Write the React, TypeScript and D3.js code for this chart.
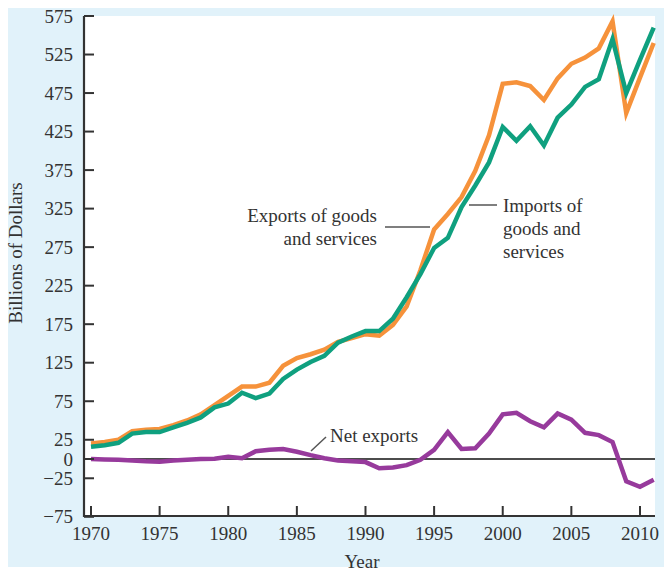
import React from "react";
import * as d3 from "d3";

// Trade balance, billions of dollars, 1970–2011
const years: number[] = d3.range(1970, 2012);

const exportsGS: number[] = [
  20, 22, 25, 36, 38, 39, 44, 50, 58, 70,
  82, 94, 94, 99, 121, 131, 136, 142, 152, 157,
  162, 160, 174, 198, 245, 298, 318, 340, 374, 420,
  487, 489, 484, 466, 494, 513, 521, 533, 568, 449,
  495, 540,
];

const importsGS: number[] = [
  16, 18, 21, 33, 35, 35, 41, 47, 54, 67,
  72, 86, 79, 85, 104, 116, 126, 134, 151, 159,
  166, 166, 182, 210, 240, 274, 287, 327, 355, 385,
  431, 413, 432, 407, 443, 460, 483, 493, 545, 475,
  518, 560,
];

const netExports: number[] = [
  0, -0.5, -1, -2, -3, -3.5, -2, -1, 0, 0.5,
  3, 1, 10, 12, 13, 9.5, 5, 1, -2, -3,
  -4, -12, -11, -8, -1, 12, 35, 13, 14, 33,
  58, 60, 49, 41, 59, 51, 34, 31, 22, -29,
  -36, -27,
];

const yTickValues: number[] = [575, 525, 475, 425, 375, 325, 275, 225, 175, 125, 75, 25, 0, -25, -75];
const xTickValues: number[] = [1970, 1975, 1980, 1985, 1990, 1995, 2000, 2005, 2010];

const W = 664;
const H = 573;
const plot = { left: 84, right: 655, top: 16, bottom: 516 };

const FONT = "'Liberation Serif', 'Times New Roman', serif";
const TEXT = "#333";

const x = d3.scaleLinear().domain([1970, 2011]).range([91, 653.7]);
const y = d3.scaleLinear().domain([-75, 575]).range([516.8, 16]);

const lineGen = d3
  .line<[number, number]>()
  .x((d) => x(d[0]))
  .y((d) => y(d[1]));

const pairs = (vals: number[]) => years.map((yr, i) => [yr, vals[i]] as [number, number]);

export default function App() {
  return (
    <svg
      width={W}
      height={H}
      viewBox={`0 0 ${W} ${H}`}
      style={{ position: "absolute", left: 0, top: 0, background: "#fff" }}
    >
      {/* panel */}
      <rect x={8} y={8} width={W - 8} height={559} fill="#e1f2fa" />
      <rect
        x={plot.left}
        y={plot.top}
        width={plot.right - plot.left}
        height={plot.bottom - plot.top}
        fill="#fff"
      />

      {/* zero line */}
      <line x1={plot.left} x2={plot.right} y1={y(0)} y2={y(0)} stroke="#111" strokeWidth={1.6} />

      {/* series */}
      <path d={lineGen(pairs(exportsGS)) ?? ""} fill="none" stroke="#f6923b" strokeWidth={4.5} strokeLinejoin="miter" />
      <path d={lineGen(pairs(importsGS)) ?? ""} fill="none" stroke="#0fa07f" strokeWidth={4.5} strokeLinejoin="miter" />
      <path d={lineGen(pairs(netExports)) ?? ""} fill="none" stroke="#973a9c" strokeWidth={4.5} strokeLinejoin="miter" />

      {/* axes */}
      <line x1={plot.left} x2={plot.left} y1={plot.top} y2={plot.bottom + 1} stroke={TEXT} strokeWidth={2.2} />
      <line x1={plot.left - 1} x2={plot.right} y1={plot.bottom} y2={plot.bottom} stroke={TEXT} strokeWidth={2.2} />

      {yTickValues.map((v) => (
        <g key={`y${v}`}>
          <line x1={plot.left} x2={plot.left + 10} y1={y(v)} y2={y(v)} stroke={TEXT} strokeWidth={2} />
          <text
            x={73}
            y={y(v)}
            dy="0.35em"
            textAnchor="end"
            fontFamily={FONT}
            fontSize={19}
            fill={TEXT}
          >
            {v < 0 ? `\u2212${Math.abs(v)}` : v}
          </text>
        </g>
      ))}

      {xTickValues.map((v) => (
        <g key={`x${v}`}>
          <line x1={x(v)} x2={x(v)} y1={plot.bottom} y2={plot.bottom - 10} stroke={TEXT} strokeWidth={2} />
          <text x={x(v)} y={540} textAnchor="middle" fontFamily={FONT} fontSize={19} fill={TEXT}>
            {v}
          </text>
        </g>
      ))}

      {/* axis titles */}
      <text x={362} y={568} textAnchor="middle" fontFamily={FONT} fontSize={19} fill={TEXT}>
        Year
      </text>
      <text
        transform="translate(22,253) rotate(-90)"
        textAnchor="middle"
        fontFamily={FONT}
        fontSize={19}
        fill={TEXT}
      >
        Billions of Dollars
      </text>

      {/* series labels */}
      <g fontFamily={FONT} fontSize={19} fill={TEXT}>
        <text x={377} y={222} textAnchor="end">Exports of goods</text>
        <text x={377} y={245} textAnchor="end">and services</text>
        <line x1={385} x2={430} y1={227} y2={227} stroke="#555" strokeWidth={1.5} />

        <text x={503} y={212}>Imports of</text>
        <text x={503} y={235}>goods and</text>
        <text x={503} y={258}>services</text>
        <line x1={469} x2={497} y1={205} y2={205} stroke="#555" strokeWidth={1.5} />

        <text x={330} y={442}>Net exports</text>
        <line x1={311} x2={326} y1={451} y2={437} stroke="#555" strokeWidth={1.5} />
      </g>
    </svg>
  );
}
